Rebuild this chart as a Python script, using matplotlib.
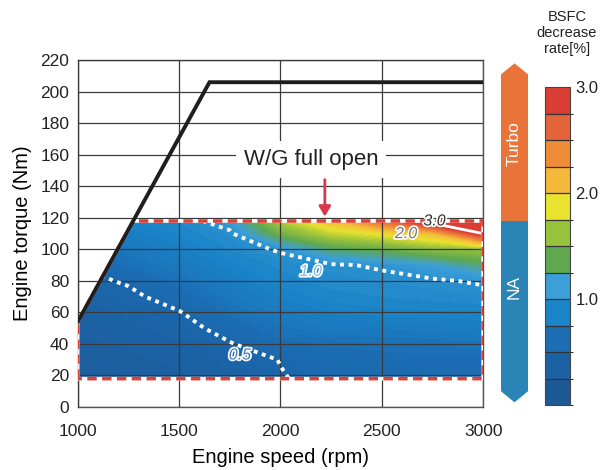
import numpy as np
import matplotlib
matplotlib.use('Agg')
import matplotlib.pyplot as plt
import matplotlib.patheffects as pe
from matplotlib.colors import ListedColormap, LinearSegmentedColormap, BoundaryNorm
from matplotlib.patches import Polygon
from matplotlib.colorbar import ColorbarBase

plt.rcParams['font.family'] = ['Liberation Sans', 'DejaVu Sans']

# BSFC decrease rate [%] on a speed x torque grid (rows = torque, cols = speed)
speed = np.array([1000, 1250, 1500, 1750, 2000, 2250, 2500, 2750, 3000])
torque = np.array([18, 30, 40, 50, 60, 70, 80, 90, 100, 110, 118])
bsfc = np.array([
    [0.26, 0.28, 0.30, 0.38, 0.49, 0.55, 0.58, 0.60, 0.60],
    [0.28, 0.30, 0.34, 0.42, 0.505, 0.58, 0.60, 0.62, 0.62],
    [0.30, 0.34, 0.38, 0.49, 0.60, 0.65, 0.67, 0.69, 0.70],
    [0.33, 0.38, 0.44, 0.56, 0.70, 0.76, 0.77, 0.78, 0.79],
    [0.36, 0.42, 0.49, 0.66, 0.78, 0.84, 0.86, 0.87, 0.88],
    [0.40, 0.46, 0.58, 0.74, 0.84, 0.90, 0.92, 0.94, 0.95],
    [0.45, 0.52, 0.68, 0.80, 0.90, 0.94, 0.96, 0.98, 1.02],
    [0.50, 0.66, 0.76, 0.86, 0.93, 0.98, 1.02, 1.12, 1.30],
    [0.56, 0.74, 0.82, 0.92, 1.02, 1.30, 1.40, 1.55, 1.60],
    [0.62, 0.82, 0.88, 0.97, 1.45, 1.75, 1.90, 2.10, 3.00],
    [0.68, 0.88, 0.93, 1.08, 1.70, 2.10, 2.60, 3.20, 3.30],
])

# full load torque curve
wot_speed = [1000, 1650, 3000]
wot_torque = [54, 206, 206]

# measured operating area
area_speed = [1000, 1000, 1274, 3000, 3000]
area_torque = [18, 54, 118, 118, 18]

# Turbo / NA split of the torque range
split_torque = 118
bar_bottom, bar_top = 3, 218

band_edges = np.arange(0, 3.01, 0.25)
band_colors = ['#1d5a95', '#1b62a5', '#1b6db4', '#1a84c8', '#3c9fd8', '#5fa84f',
               '#98c23c', '#e9e22e', '#f4b83a', '#ef8c38', '#e5653a', '#da3d33']

fig = plt.figure(figsize=(6.07, 4.70), dpi=100)
ax = fig.add_axes([0.128, 0.134, 0.668, 0.738])

# smooth shading through the band colours
centers = (band_edges[:-1] + band_edges[1:]) / 2 / 3.0
stops = [(0.0, band_colors[0])] + list(zip(centers, band_colors)) + [(1.0, band_colors[-1])]
smooth_cmap = LinearSegmentedColormap.from_list('bsfc', stops)

S, T = np.meshgrid(speed, torque)
area = Polygon(np.column_stack([area_speed, area_torque]), closed=True,
               facecolor='none', edgecolor='none', transform=ax.transData)
ax.add_patch(area)

cf = ax.contourf(S, T, bsfc, levels=np.arange(0, 3.41, 0.04), cmap=smooth_cmap,
                 vmin=0, vmax=3.0, extend='both', zorder=1)
cf.set_clip_path(area)

dotted = ax.contour(S, T, bsfc, levels=[0.5, 1.0], colors='white', linewidths=2.8,
                    linestyles=[(0, (1.0, 1.2))], zorder=3)
dotted.set_clip_path(area)
solid = ax.contour(S, T, bsfc, levels=[3.0], colors='white', linewidths=2.0, zorder=3)
solid.set_clip_path(area)

# contour labels
lab_fx = [pe.withStroke(linewidth=2.4, foreground='white')]
for x, y, s, c in [(1800, 33, '0.5', '#3f78b8'), (2150, 86, '1.0', '#7dbde6'),
                   (2620, 110, '2.0', '#777777'), (2760, 118, '3.0', '#333333')]:
    ax.text(x, y, s, fontsize=11.5, color=c, ha='center', va='center',
            style='italic', path_effects=lab_fx, zorder=5)

# area border
ax.plot(area_speed + [area_speed[0]], area_torque + [area_torque[0]],
        color='white', lw=2.6, zorder=4, solid_joinstyle='miter')
ax.plot(area_speed + [area_speed[0]], area_torque + [area_torque[0]],
        color='#dc4338', lw=2.6, ls=(0, (2.6, 1.5)), zorder=4)

ax.plot(wot_speed, wot_torque, color='#1e1e1e', lw=2.8, zorder=6,
        solid_joinstyle='miter')

ax.text(2150, 157, 'W/G full open', fontsize=16, ha='center', va='center',
        color='#222222', zorder=7,
        bbox=dict(boxstyle='square,pad=0.35', facecolor='white', edgecolor='none'))
ax.annotate('', xy=(2219, 119), xytext=(2219, 146),
            arrowprops=dict(arrowstyle='-|>,head_width=0.35,head_length=0.6',
                            color='#d9384a', lw=2.0), zorder=7)

ax.set_xlim(1000, 3000)
ax.set_ylim(0, 220)
ax.set_xticks(np.arange(1000, 3001, 500))
ax.set_yticks(np.arange(0, 221, 20))
ax.grid(True, color='#3a3a3a', lw=0.9)
ax.set_axisbelow(False)
for g in ax.get_xgridlines() + ax.get_ygridlines():
    g.set_zorder(2)
for sp in ax.spines.values():
    sp.set_color('#555555')
    sp.set_linewidth(1.0)
ax.tick_params(length=0, labelsize=12.5, colors='#222222')
ax.tick_params(axis='x', pad=12)
ax.tick_params(axis='y', pad=6)
ax.set_xlabel('Engine speed (rpm)', fontsize=14.5, labelpad=7)
ax.set_ylabel('Engine torque (Nm)', fontsize=14.5, labelpad=6)

# Turbo / NA bar, sharing the torque scale
bax = fig.add_axes([501 / 607, 0.134, 27 / 607, 0.738])
bax.set_xlim(0, 1)
bax.set_ylim(0, 220)
bax.axis('off')
bax.add_patch(Polygon([(0, split_torque), (0, bar_top - 7), (0.5, bar_top),
                       (1, bar_top - 7), (1, split_torque)], closed=True,
                      facecolor='#e8743a', edgecolor='none'))
bax.add_patch(Polygon([(0, split_torque), (0, bar_bottom + 7), (0.5, bar_bottom),
                       (1, bar_bottom + 7), (1, split_torque)], closed=True,
                      facecolor='#2a84b6', edgecolor='none'))
bax.text(0.5, 167, 'Turbo', rotation=90, color='white', fontsize=12.5,
         ha='center', va='center')
bax.text(0.5, 76, 'NA', rotation=90, color='white', fontsize=12.5,
         ha='center', va='center')

# colour scale
cax = fig.add_axes([545 / 607, 1 - 405 / 470, 25 / 607, 318 / 470])
cb = ColorbarBase(cax, cmap=ListedColormap(band_colors),
                  norm=BoundaryNorm(band_edges, len(band_colors)),
                  boundaries=band_edges, drawedges=True)
cb.outline.set_edgecolor('#444444')
cb.outline.set_linewidth(0.8)
cb.dividers.set_color('#333333')
cb.dividers.set_linewidth(0.9)
cb.set_ticks([1.0, 2.0, 3.0])
cb.set_ticklabels(['1.0', '2.0', '3.0'])
cax.tick_params(length=0, labelsize=12, pad=4, colors='#222222')
fig.text(567 / 607, 1 - 33 / 470, 'BSFC\ndecrease\nrate[%]', ha='center',
         va='center', fontsize=10.5, linespacing=1.15, color='#222222')

fig.savefig('out.png', dpi=100)
